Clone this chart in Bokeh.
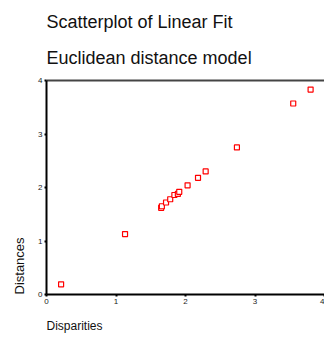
from bokeh.plotting import figure
from bokeh.models import LinearAxis, Title, Range1d, FixedTicker
from bokeh.embed import file_html
from bokeh.resources import INLINE

disparities = [0.21, 1.13, 1.65, 1.66, 1.72, 1.78, 1.84, 1.89, 1.91, 2.03, 2.18, 2.29, 2.74, 3.55, 3.80]
distances   = [0.19, 1.13, 1.62, 1.65, 1.72, 1.78, 1.86, 1.88, 1.92, 2.04, 2.18, 2.30, 2.75, 3.57, 3.83]
ticks = [0, 1, 2, 3, 4]
title1 = "Scatterplot of Linear Fit"
title2 = "Euclidean distance model"
xlabel = "Disparities"
ylabel = "Distances"

FONT = "Liberation Sans"

p = figure(width=324, height=342, output_backend="svg", toolbar_location=None,
           x_range=Range1d(0, 4), y_range=Range1d(0, 4),
           min_border_left=45, min_border_right=0, min_border_top=80, min_border_bottom=47,
           x_axis_location=None, y_axis_location=None, title=None)
p.grid.visible = False
p.outline_line_color = None
p.background_fill_color = "white"
p.border_fill_color = "white"

def style(ax, color="black"):
    ax.ticker = FixedTicker(ticks=ticks)
    ax.axis_line_width = 2
    ax.axis_line_color = color
    ax.major_tick_in = 0
    ax.major_tick_out = 2
    ax.major_tick_line_width = 2
    ax.minor_tick_line_color = None
    ax.major_label_text_font = FONT
    ax.major_label_text_font_size = "8px"
    ax.major_label_text_color = "#222222"
    ax.major_label_standoff = 2

left = LinearAxis()
style(left)
p.add_layout(left, "left")

bottom = LinearAxis()
style(bottom)
label_on_axis = True
try:
    bottom.axis_label_align = "left"
except Exception:
    label_on_axis = False
if label_on_axis:
    bottom.axis_label = xlabel
    bottom.axis_label_text_font = FONT
    bottom.axis_label_text_font_size = "12px"
    bottom.axis_label_text_font_style = "normal"
    bottom.axis_label_text_color = "#111111"
    bottom.axis_label_standoff = 24
p.add_layout(bottom, "below")

top = LinearAxis()
style(top, color="#444444")
top.ticker = FixedTicker(ticks=[])
top.major_tick_line_color = None
p.add_layout(top, "above")

p.scatter(disparities, distances, marker="square", size=5, fill_color="white",
          line_color="red", line_width=1.2)

def ttl(text, size, standoff):
    return Title(text=text, text_font=FONT, text_font_size=size, text_font_style="normal",
                 text_color="#111111", align="left", standoff=standoff, offset=0)

p.add_layout(ttl(title2, "18px", 26), "above")
p.add_layout(ttl(title1, "18px", 2), "above")
if not label_on_axis:
    p.add_layout(ttl(xlabel, "12px", 20), "below")
p.add_layout(ttl(ylabel, "13px", 18), "left")

open("out.html", "w").write(file_html(p, INLINE))
